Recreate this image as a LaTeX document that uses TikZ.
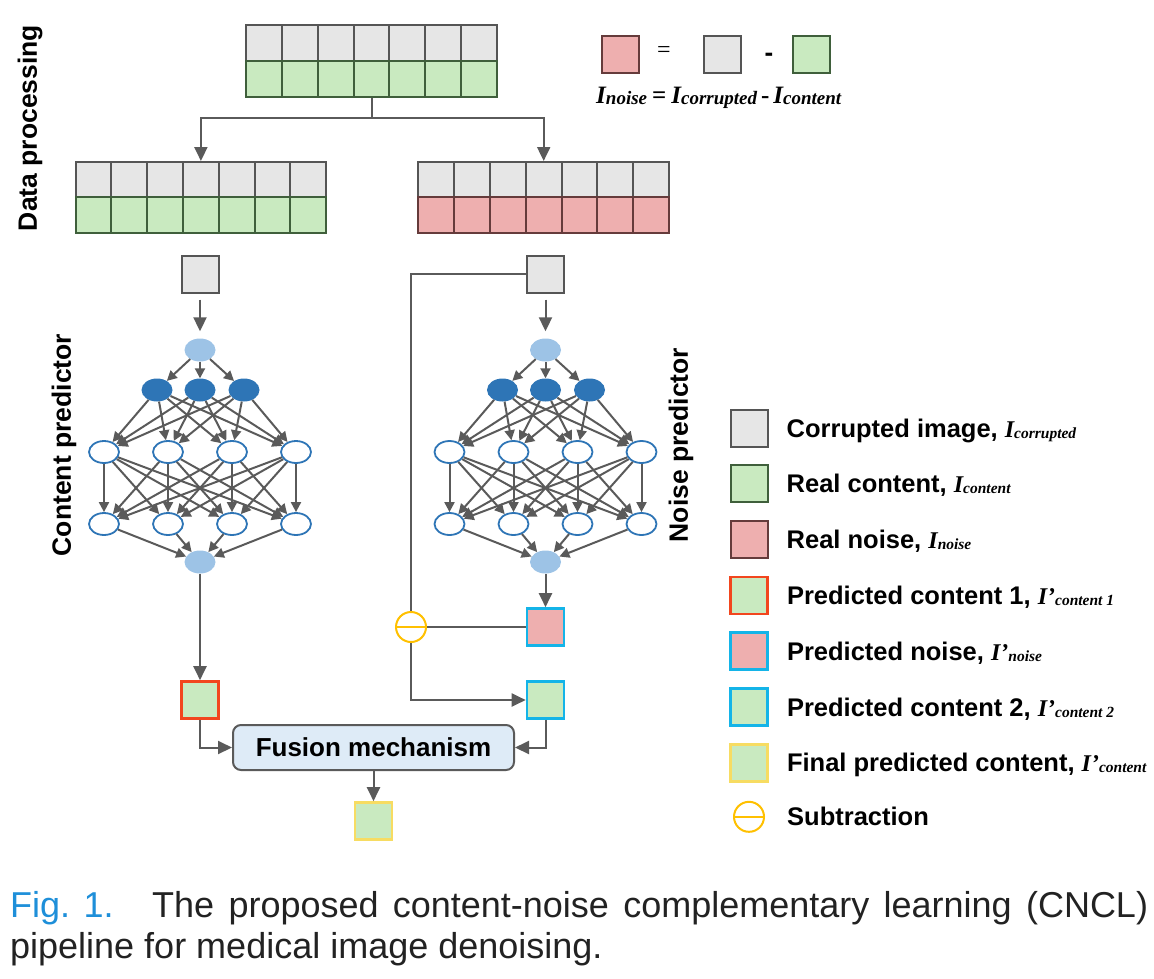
\documentclass[tikz,border=0pt]{standalone}
\usepackage{fontspec}
\setmainfont{Liberation Sans}
\newfontfamily\eqfont{Liberation Serif}
\usetikzlibrary{arrows.meta,positioning,shapes.geometric}

\definecolor{cellgray}{HTML}{E6E6E6}
\definecolor{cellgreen}{HTML}{C9EAC0}
\definecolor{cellred}{HTML}{EEAFAF}
\definecolor{edgegray}{HTML}{555555}
\definecolor{edgegreen}{HTML}{3F5F3B}
\definecolor{edgered}{HTML}{653B3B}
\definecolor{linegray}{HTML}{5A5A5A}
\definecolor{predorange}{HTML}{F2461E}
\definecolor{predcyan}{HTML}{14B4E8}
\definecolor{predyellow}{HTML}{F7DC62}
\definecolor{subyellow}{HTML}{FFC000}
\definecolor{netlight}{HTML}{9DC3E6}
\definecolor{netdark}{HTML}{2E75B6}
\definecolor{fusfill}{HTML}{DEEBF7}
\definecolor{figblue}{HTML}{1E8FD9}
\definecolor{captext}{HTML}{222222}

% italic I with a subscript, legend size and equation size
\newcommand{\legI}[1]{{\eqfont\bfseries\itshape\fontsize{24}{24}\selectfont I\fontsize{15.5}{15.5}\selectfont\raisebox{-1pt}{#1}}}
\newcommand{\legIp}[1]{{\eqfont\bfseries\itshape\fontsize{24}{24}\selectfont I’\fontsize{15.5}{15.5}\selectfont\raisebox{-1pt}{#1}}}
\newcommand{\eqI}[1]{{\eqfont\bfseries\itshape\fontsize{25}{25}\selectfont I\fontsize{19}{19}\selectfont\raisebox{-1pt}{#1}}}

\begin{document}
\begin{tikzpicture}[x=1pt, y=-1pt,
  cell/.style={draw, rectangle, line width=2pt, minimum width=35.8pt, minimum height=36pt, inner sep=0pt},
  grycell/.style={cell, fill=cellgray, draw=edgegray},
  grncell/.style={cell, fill=cellgreen, draw=edgegreen},
  redcell/.style={cell, fill=cellred, draw=edgered},
  sq/.style={draw, rectangle, line width=2pt, minimum size=37pt, inner sep=0pt},
  grysq/.style={sq, fill=cellgray, draw=edgegray},
  grnsq/.style={sq, fill=cellgreen, draw=edgegreen},
  redsq/.style={sq, fill=cellred, draw=edgered},
  pc1sq/.style={sq, fill=cellgreen, draw=predorange, line width=2.6pt},
  pnsq/.style={sq, fill=cellred, draw=predcyan, line width=2.6pt},
  pc2sq/.style={sq, fill=cellgreen, draw=predcyan, line width=2.6pt},
  finsq/.style={sq, fill=cellgreen, draw=predyellow, line width=2.6pt},
  subnode/.style={circle, draw=subyellow, line width=2pt, minimum size=30pt, inner sep=0pt,
    path picture={\draw[subyellow, line width=2pt] (path picture bounding box.west) -- (path picture bounding box.east);}},
  lightnode/.style={ellipse, fill=netlight, minimum width=31pt, minimum height=23pt, inner sep=0pt},
  darknode/.style={ellipse, fill=netdark, minimum width=31pt, minimum height=23pt, inner sep=0pt},
  opennode/.style={ellipse, draw=netdark, fill=white, line width=1.8pt, minimum width=30pt, minimum height=22pt, inner sep=0pt},
  line/.style={draw=linegray, line width=2pt},
  arr/.style={line, -{Triangle[length=14pt, width=13pt]}},
  netarr/.style={draw=linegray, line width=2pt, -{Triangle[length=10pt, width=10pt]}},
  sidelabel/.style={rotate=90, font=\bfseries\fontsize{26.5}{26.5}\selectfont},
  legtext/.style={anchor=west, text height=18pt, text depth=0pt, inner sep=0pt, font=\bfseries\fontsize{25.5}{25.5}\selectfont}]
\useasboundingbox (0,0) rectangle (1154,978);

% data processing
\foreach \i in {0,...,6} {
  \node (tc\i) [grycell] at (264.1+35.8*\i,43) {};
  \node (tg\i) [grncell] at (264.1+35.8*\i,79) {};
  \node (lc\i) [grycell] at (93.5+35.8*\i,180) {};
  \node (lg\i) [grncell] at (93.5+35.8*\i,215) {};
  \node (rc\i) [grycell] at (436.3+35.8*\i,180) {};
  \node (rn\i) [redcell] at (436.3+35.8*\i,215) {};
}
\draw [line] (tg3.south) -- ++(0,20) coordinate (split);
\draw [arr] (split) -| (lc3.north);
\draw [arr] (split) -| (rc3.north);
\node (dplabel) [sidelabel] at (30,128) {Data processing};

% I_noise = I_corrupted - I_content
\node (eqn) [redsq] at (620,54) {};
\node (eqc) [grysq, node distance=102pt, right of=eqn] {};
\node (eqg) [grnsq, node distance=89pt, right of=eqc] {};
\node (eqis) [font=\eqfont\fontsize{24}{24}\selectfont] at (664,52) {=};
\node (eqmin) [font=\bfseries\fontsize{26}{26}\selectfont] at (769,57) {-};
\node (eqtext) [anchor=base west, inner sep=0pt, font=\eqfont\bfseries\fontsize{25}{25}\selectfont] at (596,103)
  {\eqI{noise}\hspace{5pt}=\hspace{5pt}\eqI{corrupted}\hspace{4pt}-\hspace{4pt}\eqI{content}};

% content predictor and noise predictor
\foreach \s/\cx in {c/200,n/545.5} {
  \node (\s img) [grysq] at (\cx,274) {};
  \node (\s in) [lightnode] at (\cx,350) {};
  \foreach \k/\dx in {1/-43,2/0,3/44}
    \node (\s d\k) [darknode] at (\cx+\dx,390) {};
  \foreach \k/\dx in {1/-96,2/-32,3/32,4/96} {
    \node (\s a\k) [opennode] at (\cx+\dx,452) {};
    \node (\s b\k) [opennode] at (\cx+\dx,524) {};
  }
  \node (\s out) [lightnode] at (\cx,562) {};
  \draw [arr, shorten <=6pt, shorten >=7pt] (\s img) -- (\s in);
  \foreach \k in {1,2,3}
    \draw [netarr] (\s in) -- (\s d\k);
  \foreach \k in {1,2,3}
    \foreach \m in {1,...,4}
      \draw [netarr] (\s d\k) -- (\s a\m);
  \foreach \k in {1,...,4}
    \foreach \m in {1,...,4}
      \draw [netarr] (\s a\k) -- (\s b\m);
  \foreach \k in {1,...,4}
    \draw [netarr] (\s b\k) -- (\s out);
}
\node (cplabel) [sidelabel] at (64,445) {Content predictor};
\node (nplabel) [sidelabel] at (681,445) {Noise predictor};

% predictions and fusion
\node (pc1) [pc1sq] at (200,700) {};
\node (pn) [pnsq] at (545.5,627) {};
\node (pc2) [pc2sq] at (545.5,700) {};
\node (sub) [subnode] at (411,627) {};
\node (fus) [draw=linegray, line width=2pt, fill=fusfill, rounded corners=8pt, minimum width=281pt, minimum height=45pt,
  font=\bfseries\fontsize{26}{26}\selectfont] at (373.5,747.5) {Fusion mechanism};
\node (fin) [finsq] at (373.5,821) {};

\draw [arr] (cout) -- (pc1);
\draw [arr] (nout) -- (pn);
\draw [line] (nimg.west) -| (sub.north);
\draw [line] (sub.east) -- (pn.west);
\draw [arr] (sub.south) |- (pc2.west);
\draw [arr] (pc1.south) |- (fus.west);
\draw [arr] (pc2.south) |- (fus.east);
\draw [arr] (fus) -- (fin);

% legend
\node (lg1) [grysq] at (749,428) {};
\node (lg2) [grnsq, below of=lg1, node distance=55.8pt] {};
\node (lg3) [redsq, below of=lg2, node distance=55.8pt] {};
\node (lg4) [pc1sq, below of=lg3, node distance=55.8pt] {};
\node (lg5) [pnsq, below of=lg4, node distance=55.8pt] {};
\node (lg6) [pc2sq, below of=lg5, node distance=55.8pt] {};
\node (lg7) [finsq, below of=lg6, node distance=55.8pt] {};
\node (lg8) [subnode, below of=lg7, node distance=54pt] {};
\node (lt1) [legtext, right=18pt of lg1] {Corrupted image, \legI{corrupted}};
\node (lt2) [legtext, right=18pt of lg2] {Real content, \legI{content}};
\node (lt3) [legtext, right=18pt of lg3] {Real noise, \legI{noise}};
\node (lt4) [legtext, right=18pt of lg4] {Predicted content 1, \legIp{content 1}};
\node (lt5) [legtext, right=18pt of lg5] {Predicted noise, \legIp{noise}};
\node (lt6) [legtext, right=18pt of lg6] {Predicted content 2, \legIp{content 2}};
\node (lt7) [legtext, right=18pt of lg7] {Final predicted content, \legIp{content}};
\node (lt8) [legtext, right=22pt of lg8] {Subtraction};

% caption
\node (capfig) [anchor=base west, inner sep=0pt, text=figblue, font=\fontsize{36}{36}\selectfont] at (10,917) {Fig. 1.};
\node (capone) [anchor=base west, inner sep=0pt, text=captext, font=\fontsize{36}{36}\selectfont] at (152,917)
  {\makebox[996pt][s]{The proposed content-noise complementary learning (CNCL)}};
\node (captwo) [anchor=base west, inner sep=0pt, text=captext, font=\fontsize{36}{36}\selectfont] at (10,958)
  {pipeline for medical image denoising.};
\end{tikzpicture}
\end{document}
